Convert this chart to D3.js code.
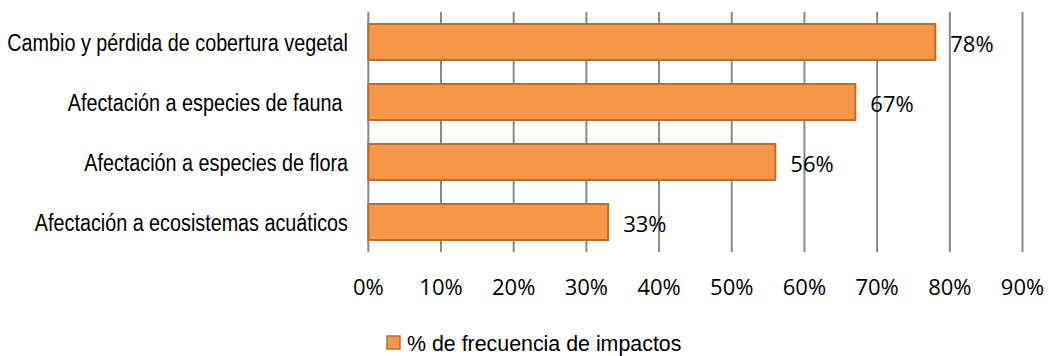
<!DOCTYPE html>
<html>
<head>
<meta charset="utf-8">
<script src="https://cdn.jsdelivr.net/npm/d3@7"></script>
<style>
  html, body { margin: 0; padding: 0; background: #fff; }
  svg { display: block; }
  .cat { font-family: "Liberation Sans", Arial, sans-serif; font-size: 23px; fill: #000; white-space: pre; }
  .tick-label, .val { font-family: "Open Sans", "Noto Sans", sans-serif; font-size: 22px; fill: #000; }
  .legend { font-family: "Liberation Sans", Arial, sans-serif; font-size: 23px; fill: #000; }
</style>
</head>
<body>
<svg id="chart" width="1049" height="356"></svg>
<script>
// Impact categories, top to bottom
const categories = [
  "Cambio y pérdida de cobertura vegetal",
  "Afectación a especies de fauna ",
  "Afectación a especies de flora",
  "Afectación a ecosistemas acuáticos"
];
// Frequency of each impact (%)
const values = [78, 67, 56, 33];
// Axis ticks (%)
const ticks = [0, 10, 20, 30, 40, 50, 60, 70, 80, 90];
const seriesName = "% de frecuencia de impactos";

const svg = d3.select("#chart");

const plot = { left: 368.3, right: 1022.5, top: 12, bottom: 252 };

const x = d3.scaleLinear().domain([0, 90]).range([plot.left, plot.right]);
const y = d3.scaleBand().domain(categories).range([plot.top, plot.bottom])
  .paddingInner(0.4).paddingOuter(0.2);

// Vertical gridlines
svg.append("g").selectAll("line").data(ticks).join("line")
  .attr("x1", d => x(d)).attr("x2", d => x(d))
  .attr("y1", plot.top).attr("y2", plot.bottom)
  .attr("stroke", "#888888").attr("stroke-width", 2);

// Tick labels
svg.append("g").selectAll("text").data(ticks).join("text")
  .attr("class", "tick-label")
  .attr("x", d => x(d)).attr("y", 295)
  .attr("text-anchor", "middle")
  .text(d => d + "%");

// Bars
svg.append("g").selectAll("rect").data(values).join("rect")
  .attr("x", x(0))
  .attr("y", (d, i) => y(categories[i]))
  .attr("width", d => x(d) - x(0))
  .attr("height", y.bandwidth())
  .attr("fill", "#F79646")
  .attr("stroke", "#B96D31")
  .attr("stroke-width", 2);

// Value labels
svg.append("g").selectAll("text").data(values).join("text")
  .attr("class", "val")
  .attr("x", d => x(d) + 15)
  .attr("y", (d, i) => y(categories[i]) + y.bandwidth() / 2 + 10)
  .text(d => d + "%");

// Category labels, in a condensed face
svg.append("g").selectAll("text").data(categories).join("text")
  .attr("class", "cat")
  .attr("transform", d => `translate(348,${y(d) + y.bandwidth() / 2 + 9}) scale(0.86,1)`)
  .attr("text-anchor", "end")
  .text(d => d);

// Legend
const lg = svg.append("g");
lg.append("rect")
  .attr("x", 387).attr("y", 336).attr("width", 13).attr("height", 13)
  .attr("fill", "#F79646").attr("stroke", "#B96D31").attr("stroke-width", 1.5);
lg.append("text")
  .attr("class", "legend")
  .attr("transform", "translate(407,351) scale(0.93,1)")
  .text(seriesName);
</script>
</body>
</html>
